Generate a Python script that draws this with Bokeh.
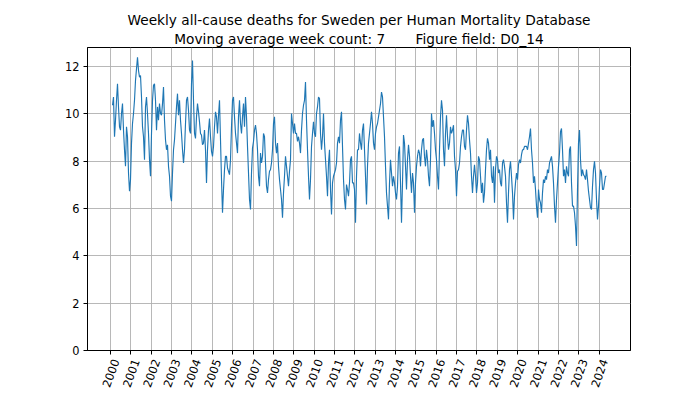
import math
from bokeh.plotting import figure
from bokeh.models import Range1d, FixedTicker, Title, LinearAxis, CustomJSTickFormatter
from bokeh.embed import file_html
from bokeh.resources import INLINE

# 7-week moving average of weekly deaths (field D0_14), sampled about every 2.6 weeks
start_year = 2000.098
step_years = 0.049116

ma7_2000_2001 = [10.36, 10.71, 9.03, 9.73, 10.57, 11.27, 10.29, 9.45, 9.31, 10.01, 10.43, 9.31, 8.48,
                 7.78, 9.45, 9.03, 7.50, 6.73, 7.22, 8.76, 9.59, 10.01, 10.57, 11.41, 11.9, 12.39,
                 11.83, 11.55, 11.62, 10.71, 9.45, 9.03, 8.06, 10.29, 10.71, 10.01, 9.17]
ma7_2002_2003 = [8.06, 7.36, 9.17, 10.57, 11.2, 11.27, 10.57, 9.31, 10.29, 9.73, 10.43, 10.01, 9.94,
                 10.43, 11.13, 9.73, 8.90, 8.48, 8.69, 7.78, 7.36, 6.52, 6.31, 7.50, 8.48, 8.90,
                 9.59, 10.29, 10.85, 9.94, 10.57, 9.73, 9.17, 8.48, 7.92, 8.48, 9.59, 10.57, 10.71,
                 10.15, 9.31]
ma7_2004_2005 = [9.17, 11.27, 12.25, 10.57, 9.17, 8.96, 9.87, 10.43, 10.08, 9.66, 9.17, 9.10, 8.69,
                 8.76, 9.31, 8.48, 7.08, 8.48, 9.31, 9.80, 9.03, 8.41, 8.20, 8.62, 9.45, 10.08,
                 9.87, 9.17, 9.94, 10.57, 8.90, 7.22, 5.82, 6.80, 7.64, 8.20, 8.20, 7.71, 7.57,
                 7.43, 8.06, 9.45]
ma7_2006_2007 = [10.57, 10.71, 9.87, 9.17, 8.76, 8.34, 9.87, 10.57, 9.59, 9.17, 9.87, 10.43, 9.45,
                 10.71, 9.87, 8.62, 7.50, 6.38, 5.96, 7.50, 8.55, 8.83, 9.31, 9.52, 9.17, 8.48,
                 7.36, 6.94, 8.34, 7.92, 8.20, 9.17, 9.03, 7.92, 6.94, 6.66, 7.22, 7.57, 7.64,
                 7.92, 8.48, 9.59]
ma7_2008_2009 = [9.87, 8.76, 8.34, 8.76, 7.78, 7.22, 6.80, 6.38, 5.61, 6.66, 7.36, 8.20, 7.78,
                 7.36, 6.94, 7.57, 8.06, 10.01, 9.59, 9.17, 9.59, 9.17, 9.17, 8.83, 9.03, 8.76,
                 8.34, 9.31, 10.01, 10.36, 10.57, 11.34, 9.73, 8.48, 7.36, 6.38, 7.22, 8.62, 9.17,
                 9.66, 9.17, 9.03]
ma7_2010_2011 = [10.01, 10.29, 10.71, 10.64, 9.17, 8.48, 9.03, 10.01, 8.76, 8.06, 7.36, 6.52, 7.92,
                 8.48, 6.80, 5.75, 7.08, 7.36, 7.50, 7.64, 7.92, 8.76, 9.03, 8.76, 9.73, 10.08,
                 8.62, 7.22, 6.38, 5.96, 7.01, 6.80, 6.52, 7.08, 8.06, 8.20, 7.08, 7.08, 6.80,
                 5.40, 7.36, 8.48]
ma7_2012_2013 = [8.48, 9.17, 8.76, 8.48, 9.31, 9.59, 8.48, 7.36, 6.17, 7.78, 8.76, 9.17, 9.59,
                 10.08, 9.59, 8.76, 8.48, 9.17, 9.45, 9.59, 9.87, 10.15, 10.43, 10.92, 10.71, 9.87,
                 9.03, 7.78, 6.66, 6.10, 5.54, 7.08, 8.06, 7.50, 6.94, 7.36, 7.08, 6.66, 6.38,
                 6.94, 8.34, 8.62]
ma7_2014_2015 = [7.08, 5.40, 7.08, 9.10, 8.76, 7.78, 6.80, 8.06, 8.69, 8.20, 7.36, 6.66, 7.50,
                 7.08, 5.82, 7.08, 7.78, 8.20, 8.48, 8.34, 7.78, 8.48, 8.90, 8.96, 8.20, 7.78,
                 8.48, 8.06, 7.36, 6.94, 8.06, 10.01, 9.45, 9.73, 9.17, 8.48, 8.06, 7.36, 6.80,
                 8.48, 9.87, 10.57]
ma7_2016_2017 = [10.15, 8.48, 7.78, 9.17, 9.94, 9.03, 8.48, 8.76, 9.45, 9.17, 9.31, 9.52, 8.20,
                 7.64, 6.52, 7.57, 7.64, 7.92, 8.62, 9.03, 9.31, 9.31, 8.62, 8.48, 9.31, 9.94,
                 9.59, 8.90, 8.34, 7.36, 6.66, 7.36, 7.85, 7.36, 6.66, 7.08, 8.20, 8.06, 7.36,
                 6.66, 7.08, 6.24]
ma7_2018_2019 = [6.66, 7.64, 8.48, 8.96, 8.76, 8.06, 8.48, 7.36, 7.08, 7.78, 6.24, 7.64, 8.20,
                 8.06, 7.50, 7.64, 7.08, 6.94, 7.92, 8.06, 7.78, 7.36, 6.24, 5.40, 6.66, 7.64,
                 7.99, 7.36, 6.66, 5.54, 6.52, 7.08, 7.50, 7.22, 7.85, 8.06, 7.92, 8.27, 8.48,
                 8.48, 8.62, 8.62]
ma7_2020_2022 = [8.62, 8.48, 8.76, 9.03, 9.38, 8.48, 7.92, 7.08, 7.36, 6.80, 6.10, 5.61, 6.80,
                 6.38, 6.24, 5.82, 6.66, 7.22, 7.08, 7.36, 7.22, 7.64, 7.50, 7.92, 8.06, 8.20,
                 7.78, 7.08, 6.10, 5.40, 6.38, 7.08, 7.78, 8.34, 9.24, 9.38, 8.48, 7.36, 7.64,
                 7.08, 7.78, 7.50]
ma7_2022_2024 = [7.36, 8.48, 8.62, 7.08, 6.10, 6.10, 5.82, 5.26, 4.42, 6.80, 8.76, 9.31, 8.06,
                 7.36, 7.64, 7.43, 7.36, 7.22, 7.64, 7.22, 6.73, 6.38, 6.03, 5.96, 6.94, 7.64,
                 7.99, 7.50, 6.38, 5.54, 6.10, 6.94, 7.64, 7.50, 6.80, 6.80, 7.08, 7.36, 7.36]

year_ticks = list(range(2000, 2025))
value_ticks = [0, 2, 4, 6, 8, 10, 12]

title_line1 = "Weekly all-cause deaths for Sweden per Human Mortality Database"
title_line2 = "Moving average week count: 7" + "\u00a0" * 7 + "Figure field: D0_14"

values = (ma7_2000_2001 + ma7_2002_2003 + ma7_2004_2005 + ma7_2006_2007 + ma7_2008_2009 +
          ma7_2010_2011 + ma7_2012_2013 + ma7_2014_2015 + ma7_2016_2017 + ma7_2018_2019 +
          ma7_2020_2022 + ma7_2022_2024)
times = [start_year + i * step_years for i in range(len(values))]

FONT = "DejaVu Sans"
W, H = 700, 394
BL, BR, BT, BB = 87, 70, 47, 44
X0, X1 = 1998.87, 2025.54
Y0, Y1 = 0, 12.8
TICK_FS = 11.4

p = figure(width=W, height=H, output_backend="svg", toolbar_location=None,
           x_range=Range1d(X0, X1), y_range=Range1d(Y0, Y1),
           min_border_left=BL, min_border_right=BR, min_border_top=BT, min_border_bottom=BB,
           title=None)

# second title line sits closest to the frame, first line above it
p.add_layout(Title(text=title_line2, align="center", text_font=FONT, text_font_size="13.7px",
                   text_font_style="normal", text_color="black", standoff=2), "above")
p.add_layout(Title(text=title_line1, align="center", text_font=FONT, text_font_size="13.7px",
                   text_font_style="normal", text_color="black", standoff=0), "above")

p.line(times, values, line_color="#1f77b4", line_width=1.15)

p.xaxis.ticker = FixedTicker(ticks=year_ticks)
p.yaxis.ticker = FixedTicker(ticks=value_ticks)
p.xaxis.formatter = CustomJSTickFormatter(code="return ''")

for ax in (p.xaxis, p.yaxis):
    ax.axis_line_color = "black"
    ax.axis_line_width = 1
    ax.major_tick_line_color = "black"
    ax.major_tick_out = 4
    ax.major_tick_in = 0
    ax.minor_tick_line_color = None
    ax.major_label_text_font = FONT
    ax.major_label_text_font_size = f"{TICK_FS}px"
    ax.major_label_text_color = "black"
    ax.major_label_standoff = 4
p.xaxis.major_label_standoff = 0

# Year labels on a second, line-less axis: rotated 70 degrees and shifted so that each
# label's centre sits under its tick (as matplotlib's centred rotation does).
rot = math.radians(70)
label_len = 4 * 0.636 * TICK_FS
px_per_year = (W - BL - BR) / (X1 - X0)
label_shift = (label_len / 2) * math.cos(rot) / px_per_year
label_axis = LinearAxis(
    ticker=FixedTicker(ticks=[yr + label_shift for yr in year_ticks]),
    formatter=CustomJSTickFormatter(args=dict(shift=label_shift),
                                    code="return String(Math.round(tick - shift))"),
    major_label_orientation=rot,
    major_label_standoff=5,
    major_label_text_font=FONT,
    major_label_text_font_size=f"{TICK_FS}px",
    major_label_text_color="black",
    axis_line_color=None,
    major_tick_line_color=None,
    minor_tick_line_color=None,
    major_tick_out=0,
    major_tick_in=0,
)
p.add_layout(label_axis, "below")

p.grid.grid_line_color = "#b0b0b0"
p.grid.grid_line_width = 0.9
p.outline_line_color = "black"
p.outline_line_width = 1
p.background_fill_color = "white"
p.border_fill_color = "white"

open("out.html", "w").write(file_html(p, INLINE))
